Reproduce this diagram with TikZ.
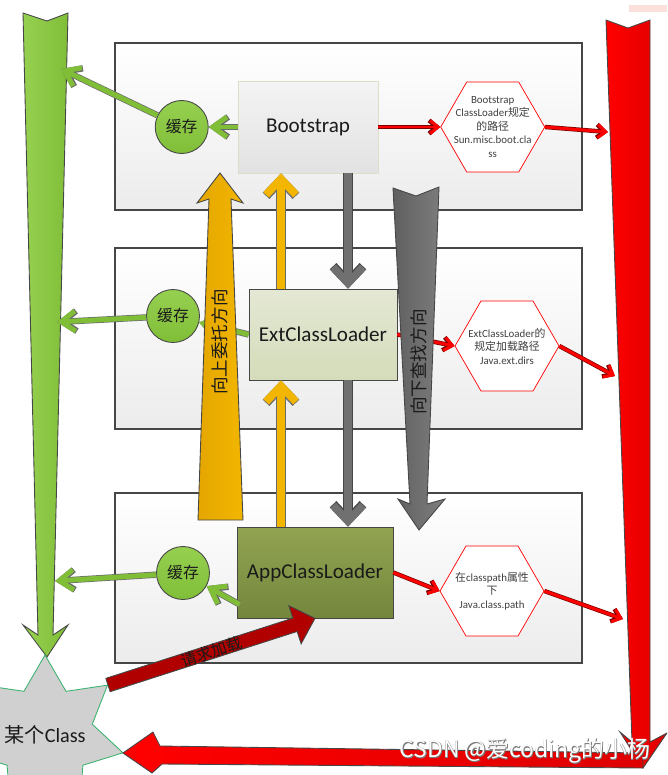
\documentclass[tikz,border=0pt]{standalone}
\usepackage{fontspec}
\setmainfont{Carlito}
\newfontfamily\cjk{Noto Sans CJK SC}
\newfontfamily\cjkthick[FakeBold=3]{Noto Sans CJK SC}
\usetikzlibrary{arrows.meta,positioning,shapes.geometric,calc}
\definecolor{jvmLayerBottom}{RGB}{236,236,236}
\definecolor{jvmEdge}{RGB}{70,70,70}
\definecolor{jvmInk}{RGB}{26,26,26}
\definecolor{jvmHexText}{RGB}{64,64,64}
\definecolor{jvmGreen}{RGB}{128,190,56}
\definecolor{jvmLeaf}{RGB}{150,208,80}
\definecolor{jvmRedDeep}{RGB}{222,0,0}
\definecolor{jvmRedEdge}{RGB}{120,0,0}
\definecolor{jvmBrick}{RGB}{176,0,0}
\definecolor{jvmGold}{RGB}{242,182,0}
\definecolor{jvmGoldDark}{RGB}{228,166,0}
\definecolor{jvmGrey}{RGB}{112,112,112}
\definecolor{jvmGreyDark}{RGB}{96,96,96}
\definecolor{jvmBootTop}{RGB}{244,244,244}
\definecolor{jvmBootBottom}{RGB}{226,226,226}
\definecolor{jvmBootEdge}{RGB}{222,222,200}
\definecolor{jvmExtTop}{RGB}{228,232,212}
\definecolor{jvmExtBottom}{RGB}{212,220,186}
\definecolor{jvmAppTop}{RGB}{146,164,82}
\definecolor{jvmAppBottom}{RGB}{116,134,60}
\definecolor{jvmStar}{RGB}{208,208,208}
\definecolor{jvmStarEdge}{RGB}{60,179,113}
\definecolor{jvmPink}{RGB}{252,224,220}

\begin{document}
\begin{tikzpicture}[
  x=0.02cm, y=-0.02cm,
  layer/.style={draw=jvmEdge, line width=0.6pt, top color=white, bottom color=jvmLayerBottom},
  loader/.style={
    draw,
    minimum height=1.82cm,
    inner sep=0pt,
    text=jvmInk,
    font=\fontsize{12}{14}\selectfont
  },
  cache/.style={circle, draw=jvmEdge, line width=0.5pt, top color=jvmLeaf, bottom color=jvmGreen,
    minimum size=1.06cm, inner sep=0pt, text=jvmInk, font=\cjk\fontsize{9}{10}\selectfont},
  pathbox/.style={regular polygon, regular polygon sides=6, draw=red, fill=white, minimum size=2.08cm, inner sep=0pt},
  pathtext/.style={align=center, text=jvmHexText, font=\fontsize{6.2}{7.7}\selectfont},
  bigflow/.style={draw=jvmEdge, line width=0.5pt},
  flowtext/.style={rotate=90, text=jvmInk, font=\cjk\fontsize{10}{12}\selectfont},
  cacheflow/.style={jvmGreen, line width=2.8pt, -{Straight Barb[length=8pt,width=11.5pt,sharp]},
    preaction={draw=jvmEdge!80, line width=3.6pt}},
  pathflow/.style={red, line width=1.7pt, -{Straight Barb[length=4.5pt,width=7.5pt,sharp]},
    preaction={draw=jvmRedEdge, line width=2.5pt}},
  upflow/.style={jvmGold, line width=4.4pt, -{Straight Barb[length=9pt,width=17pt,sharp]},
    preaction={draw=jvmEdge!80, line width=5.2pt}},
  downflow/.style={jvmGrey, line width=4.4pt, -{Straight Barb[length=9pt,width=17pt,sharp]},
    preaction={draw=jvmEdge, line width=5.2pt}}
]
  \useasboundingbox (0,0) rectangle (667,775);
  \clip (0,0) rectangle (667,775);
  \fill[jvmPink] (629,5) rectangle (667,12);

  % the three layers
  \draw[layer] (115,43) rectangle (582,210);
  \draw[layer] (115,248) rectangle (582,429);
  \draw[layer] (115,493) rectangle (582,663);

  % side arrows and the class
  \draw[bigflow, left color=jvmLeaf, right color=jvmGreen]
    (23,13) -- (47,21) -- (68,13) -- (53,635) -- (68,625) -- (47,657) -- (23,625) -- (38,635) -- cycle;
  \draw[bigflow, left color=red, right color=jvmRedDeep]
    (606,20) -- (628,28) -- (650,20) -- (650,742) -- (667,733) -- (643,768) -- (620,732) -- (632,742) -- cycle;
  \node[star, star points=7, star point ratio=1.65, minimum size=3.2cm, inner sep=0pt,
    draw=jvmStarEdge, fill=jvmStar, line width=0.5pt,
    label={[text=jvmInk, font=\fontsize{11.5}{13}\selectfont]center:{\cjk 某个}Class}] (someclass) at (45,735) {};
  \draw[bigflow, left color=red, right color=jvmRedDeep]
    (643,753) -- (160,746) -- (153,732) -- (123,753) -- (152,773) -- (162,764) -- (643,768) -- cycle;

  % loaders
  \node[loader, minimum width=2.8cm, minimum height=1.84cm, draw=jvmBootEdge,
    top color=jvmBootTop, bottom color=jvmBootBottom] (boot) at (308,127) {Bootstrap};
  \node[loader, minimum width=2.96cm, draw=jvmEdge,
    top color=jvmExtTop, bottom color=jvmExtBottom] (ext) at (323,334.5) {ExtClassLoader};
  \node[loader, minimum width=3.12cm, draw=jvmEdge,
    top color=jvmAppTop, bottom color=jvmAppBottom] (app) at (315,572.5) {AppClassLoader};

  \node[cache, left=0.58cm of boot] (cache1) {缓存};
  \node[cache] (cache2) at (173,316) {缓存};
  \node[cache] (cache3) at (183,573) {缓存};

  \node[pathbox, right=1.24cm of boot,
    label={[pathtext]center:Bootstrap\\ClassLoader{\cjk 规定}\\{\cjk 的路径}\\Sun.misc.boot.cla\\ss}] (hex1) {};
  \node[pathbox, label={[pathtext]center:ExtClassLoader{\cjk 的}\\{\cjk 规定加载路径}\\Java.ext.dirs}] (hex2) at (507,346) {};
  \node[pathbox, label={[pathtext]center:{\cjk 在}classpath{\cjk 属性}\\{\cjk 下}\\Java.class.path}] (hex3) at (492,591) {};

  % cache arrows
  \coordinate (gTop) at (61,69);
  \coordinate (gMid) at (57,322);
  \coordinate (gLow) at (55,581);
  \draw[cacheflow] (boot) -- (cache1);
  \draw[cacheflow] (cache1) -- (gTop);
  \draw[cacheflow] (ext.west) -- (cache2);
  \draw[cacheflow] (cache2) -- (gMid);
  \draw[cacheflow] ([shift={(3,32)}]app.west) -- (cache3);
  \draw[cacheflow] (cache3) -- (gLow);

  % path arrows
  \coordinate (rTop) at (608,132);
  \coordinate (rMid) at (615,376);
  \coordinate (rLow) at (623,619);
  \draw[pathflow] (boot) -- (hex1);
  \draw[pathflow] (hex1.east) -- (rTop);
  \draw[pathflow] (ext.east) -- (hex2.west);
  \draw[pathflow] (hex2.east) -- (rMid);
  \draw[pathflow] (app.east) -- (hex3.west);
  \draw[pathflow] (hex3.east) -- (rLow);

  % delegation between loaders
  \coordinate (upx) at (281,0);
  \coordinate (downx) at (348,0);
  \draw[upflow] (ext.north -| upx) -- (boot.south -| upx);
  \draw[upflow] (app.north -| upx) -- (ext.south -| upx);
  \draw[downflow] (boot.south -| downx) -- (ext.north -| downx);
  \draw[downflow] (ext.south -| downx) -- (app.north -| downx);

  \draw[bigflow, left color=jvmGoldDark, right color=jvmGold]
    (220,173) -- (243,203) -- (231,199) -- (243,520) -- (198,520) -- (209,199) -- (197,203) -- cycle;
  \node[flowtext] (upward) at (220,342) {向上委托方向};
  \draw[bigflow, left color=jvmGreyDark, right color=jvmGrey!90]
    (393,188) -- (416,196) -- (439,187) -- (427,504) -- (445,499) -- (419,530) -- (398,499) -- (410,504) -- cycle;
  \node[flowtext] (downward) at (419,362) {向下查找方向};

  % load request
  \coordinate (reqfrom) at (108,685);
  \draw[bigflow, fill=jvmBrick]
    ($(reqfrom)!0.14cm!90:(app.south)$) -- ($(app.south)!0.42cm!(reqfrom)!0.14cm!90:(app.south)$)
    -- ($(app.south)!0.42cm!(reqfrom)!0.4cm!90:(app.south)$) -- (app.south)
    -- ($(app.south)!0.42cm!(reqfrom)!0.4cm!-90:(app.south)$)
    -- ($(app.south)!0.42cm!(reqfrom)!0.14cm!-90:(app.south)$) -- ($(reqfrom)!0.14cm!-90:(app.south)$) -- cycle;
  \node[rotate=18, text=jvmInk, font=\cjk\fontsize{9}{10}\selectfont] (reqtext)
    at ($(reqfrom)!0.5!(app.south)$) {请求加载};

  \node[font=\cjkthick\fontsize{13}{15}\selectfont, text=jvmEdge!70] (wmedge) at (525,751) {CSDN @爱coding的小杨};
  \node[font=\cjk\fontsize{13}{15}\selectfont, text=white] (wm) at (wmedge) {CSDN @爱coding的小杨};
\end{tikzpicture}
\end{document}
